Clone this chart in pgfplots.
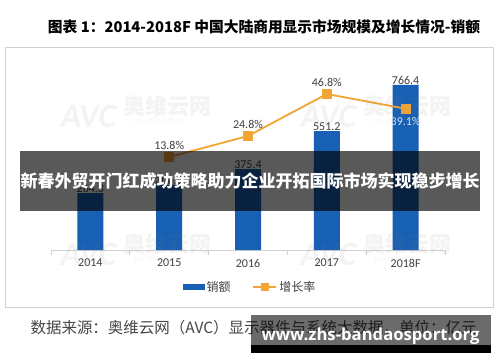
\documentclass[border=0pt]{standalone}
\usepackage{fontspec}
\usepackage{pgfplots}
\pgfplotsset{compat=1.18}
\setmainfont{Carlito}
\newfontfamily\cjk{Noto Sans CJK SC}
\newfontfamily\urlfont{Open Sans}
\definecolor{barblue}{RGB}{24,96,180}
\definecolor{lineorange}{RGB}{242,164,52}
\definecolor{labgray}{RGB}{64,64,64}
\definecolor{axgray}{RGB}{210,210,210}
\begin{document}
\begin{tikzpicture}[x=1pt,y=1pt]
\fill[white] (0,0) rectangle (500,362);
\path[use as bounding box] (0,0) rectangle (500,362);
% title
\node[anchor=center] at (264,335) {\resizebox{432pt}{!}{\cjk\bfseries\fontsize{15}{15}\selectfont 图表 1：2014-2018F 中国大陆商用显示市场规模及增长情况-销额}};
% chart frame
\draw[axgray, line width=0.8pt] (5,55) rectangle (493,315);
% bars
\begin{axis}[at={(51pt,112pt)}, anchor=south west, scale only axis,
  width=394pt, height=194pt,
  xmin=-0.5, xmax=4.5, ymin=0, ymax=900,
  axis x line*=bottom, axis y line=none,
  x axis line style={axgray, line width=0.8pt},
  xtick={0,1,2,3,4},
  xticklabels={2014,2015,2016,2017,2018F},
  major tick length=0pt,
  minor xtick={-0.5,0.5,1.5,2.5,3.5,4.5},
  minor tick length=5pt, tick align=outside,
  minor tick style={axgray, line width=0.8pt},
  xticklabel style={font=\fontsize{12}{12}\selectfont, text=labgray, inner sep=0pt, yshift=-9pt},
  clip=false,
  /pgf/number format/assume math mode=true,
  legend style={at={(0.505,-0.19)}, anchor=center, draw=none, fill=none,
    legend columns=2, font=\cjk\fontsize{12}{12}\selectfont, text=labgray,
    /tikz/every even column/.append style={column sep=20pt},
    inner sep=0pt},
  legend cell align=left,
]
\addplot[ybar, bar width=26pt, fill=barblue, draw=none,
  nodes near coords={\pgfmathprintnumber[fixed,fixed zerofill,precision=1]{\pgfplotspointmeta}},
  every node near coord/.append style={font=\fontsize{12}{12}\selectfont, text=labgray, anchor=south, inner sep=0.5pt},
  legend image code/.code={\fill[barblue] (0pt,-3pt) rectangle (22pt,3pt);}]
  coordinates {(0,264.3) (1,300.8) (2,375.4) (3,551.2) (4,766.4)};
\addlegendentry{销额}
\addlegendimage{legend image code/.code={\draw[lineorange, line width=1.6pt] (0pt,0pt) -- (23pt,0pt); \fill[lineorange] (7.5pt,-3.5pt) rectangle (14.5pt,3.5pt);}}
\addlegendentry{增长率}
\end{axis}
% growth line
\begin{axis}[at={(51pt,112pt)}, anchor=south west, scale only axis,
  width=394pt, height=194pt,
  xmin=-0.5, xmax=4.5, ymin=-34.9, ymax=66.7,
  hide axis, clip=false,
  /pgf/number format/assume math mode=true]
\addplot[lineorange, line width=1.8pt, mark=square*, mark size=4.2pt,
  mark options={fill=lineorange, draw=lineorange},
  nodes near coords={\pgfmathprintnumber[fixed,fixed zerofill,precision=1]{\pgfplotspointmeta}\%},
  every node near coord/.append style={font=\fontsize{12}{12}\selectfont, text=labgray, anchor=south, inner sep=0pt, yshift=6.5pt}]
  coordinates {(1,13.8) (2,24.8) (3,46.8)};
\addplot[lineorange, line width=1.8pt, mark=square*, mark size=4.2pt,
  mark options={fill=lineorange, draw=lineorange}]
  coordinates {(3,46.8) (4,39.1)};
\addplot[draw=none, mark=none,
  nodes near coords={\pgfmathprintnumber[fixed,fixed zerofill,precision=1]{\pgfplotspointmeta}\%},
  every node near coord/.append style={font=\fontsize{12}{12}\selectfont, text={rgb,255:red,215;green,228;blue,245}, anchor=north, inner sep=0pt, yshift=-8pt}]
  coordinates {(4,39.1)};
\end{axis}
% watermarks
\foreach \cx/\cy in {120/112, 360/112, 120/250, 360/250}{
  \begin{scope}[shift={(\cx,\cy)}, rotate=22]
  \node[text=gray, opacity=0.09, anchor=east] at (-2,-4) {\bfseries\itshape\fontsize{34}{34}\selectfont AVC};
  \node[text=gray, opacity=0.09, anchor=west] at (2,6) {\cjk\bfseries\fontsize{22}{22}\selectfont 奥维云网};
  \node[text=gray, opacity=0.09, anchor=west] at (6,-12) {\fontsize{7}{7}\selectfont ALL VIEW CLOUD};
  \end{scope}
}
% source
\node[anchor=base west, text={rgb,255:red,70;green,70;blue,70}] at (27,29) {\resizebox{446pt}{!}{\cjk\fontsize{16}{16}\selectfont 数据来源：奥维云网（AVC）显示器件与系统大数据，单位：亿元}};
% overlay banner
\fill[black, opacity=0.65] (20,151) rectangle (480,211);
\node[text=white] at (250,181) {\resizebox{459pt}{!}{\cjk\bfseries\fontsize{17}{17}\selectfont 新春外贸开门红成功策略助力企业开拓国际市场实现稳步增长}};
% url box
\fill[black, opacity=0.58] (251,17) rectangle (491,47);
\fill[black] (251,9) rectangle (491,17);
\node[text=white, anchor=base] at (370.5,22) {\resizebox{218pt}{!}{\urlfont\bfseries\fontsize{16}{16}\selectfont www.zhs-bandaosport.org}};
\end{tikzpicture}
\end{document}
